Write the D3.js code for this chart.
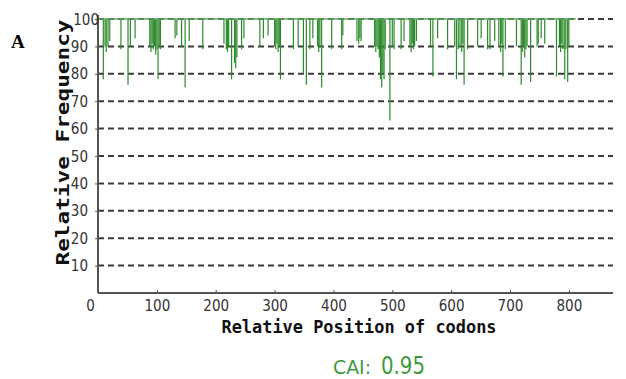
<!DOCTYPE html>
<html>
<head>
<meta charset="utf-8">
<script src="https://cdn.jsdelivr.net/npm/d3@7"></script>
<style>
  body { margin: 0; background: #fff; }
  svg { display: block; }
</style>
</head>
<body>
<svg id="chart" width="626" height="379"></svg>
<script>
// codon positions where relative frequency drops below 100
const dipCodons = [9, 12, 14, 17, 20, 39, 51, 55, 63,
  88, 90, 92, 94, 96, 98, 100, 102, 104, 106, 131,
  134, 142, 148, 155, 178, 214, 218, 220, 222, 227, 232, 234, 236, 244, 248,
  275, 281, 289, 300, 302, 304, 306, 308, 310, 332, 340, 349, 354, 360, 365, 373, 375, 377, 380, 397,
  414, 416, 440, 443, 445, 447, 470, 472, 474, 476, 478, 480, 482, 484, 486, 488, 496, 500, 503, 515, 520,
  530, 532, 534, 536, 538, 541, 565, 569, 577, 594, 606, 609, 612, 615, 618, 620, 622, 628, 645, 651,
  662, 666, 674, 681, 684, 686, 688, 692, 711, 719, 721, 723, 725, 727, 729, 735, 746, 748, 753, 759,
  779, 784, 786, 788, 790, 793, 795, 798, 800];
const dipValues = [78, 90, 88, 90, 92, 89, 76, 90, 93,
  90, 88, 91, 89, 90, 87, 89, 78, 90, 89, 93,
  94, 90, 75, 92, 89, 91, 89, 88, 90, 78, 84, 82, 86, 89, 93,
  90, 93, 94, 90, 89, 91, 88, 90, 78, 89, 90, 80, 76, 89, 93, 90, 88, 90, 75, 89,
  89, 94, 92, 91, 93, 92, 90, 88, 90, 89, 86, 78, 75, 80, 78, 89, 63, 90, 89, 89, 92,
  90, 88, 91, 89, 90, 92, 90, 79, 93, 89, 90, 78, 89, 90, 88, 91, 76, 89, 90, 93,
  89, 89, 92, 90, 88, 91, 79, 89, 90, 76, 88, 90, 86, 89, 90, 77, 90, 91, 93, 91,
  79, 90, 88, 91, 89, 78, 89, 77, 90];
const seqLength = 812;
const yTicks = [10, 20, 30, 40, 50, 60, 70, 80, 90, 100];
const xTicks = [0, 100, 200, 300, 400, 500, 600, 700, 800];
const caiValue = "0.95";

const svg = d3.select('#chart');
const plotLeft = 98, plotRight = 613, plotTop = 19, plotBottom = 293;

const x = d3.scaleLinear().domain([0, 875]).range([plotLeft, plotRight]);
const y = d3.scaleLinear().domain([0, 100]).range([plotBottom, plotTop]);

const labelFont = '"DejaVu Sans", sans-serif';

// dashed grid
svg.append('g').selectAll('line').data(yTicks).join('line')
  .attr('x1', plotLeft).attr('x2', plotRight)
  .attr('y1', d => y(d)).attr('y2', d => y(d))
  .attr('stroke', '#3a3a3a').attr('stroke-width', 2)
  .attr('stroke-dasharray', '6,4');

// spikes
const dips = dipCodons.map((c, i) => ({ c: c, v: dipValues[i] }));
svg.append('g').selectAll('line').data(dips).join('line')
  .attr('x1', d => x(d.c)).attr('x2', d => x(d.c))
  .attr('y1', y(100)).attr('y2', d => y(d.v))
  .attr('stroke', '#2b8a2b').attr('stroke-width', 1.2);

svg.append('line')
  .attr('x1', x(1)).attr('x2', x(seqLength))
  .attr('y1', y(100)).attr('y2', y(100))
  .attr('stroke', '#5fa85f').attr('stroke-width', 1.5);

// axes
const yAxis = d3.axisLeft(y).tickValues(yTicks).tickSize(3).tickPadding(7);
const gy = svg.append('g').attr('transform', 'translate(' + plotLeft + ',0)').call(yAxis);
const xAxis = d3.axisBottom(x).tickValues(xTicks).tickSize(-3).tickPadding(7);
const gx = svg.append('g').attr('transform', 'translate(0,' + plotBottom + ')').call(xAxis);

[gy, gx].forEach(g => {
  g.select('.domain').attr('stroke', '#555').attr('stroke-width', 2);
  g.selectAll('.tick line').attr('stroke', '#555');
  g.selectAll('.tick text')
    .attr('fill', '#333')
    .attr('textLength', d => String(d).length * 8.6)
    .attr('lengthAdjust', 'spacingAndGlyphs')
    .style('font-family', labelFont)
    .style('font-size', '16px');
});
gx.select('.domain').attr('d', 'M' + plotLeft + ',0H' + plotRight);
gy.select('.domain').attr('d', 'M0,' + plotBottom + 'V' + (plotTop - 4));
gx.selectAll('.tick text').attr('dy', '0.71em');
gx.selectAll('.tick').filter(d => d === 0).select('text').attr('x', -8);
gx.selectAll('.tick').filter(d => d === 0).select('line').remove();
gy.selectAll('.tick').filter(d => d === 100).select('text').attr('x', 1);

// titles
svg.append('text')
  .attr('transform', 'translate(69,' + ((plotTop + 262) / 2 + 2) + ') rotate(-90)')
  .attr('text-anchor', 'middle')
  .attr('textLength', 246).attr('lengthAdjust', 'spacingAndGlyphs')
  .style('font-family', '"DejaVu Sans Mono", monospace')
  .style('font-weight', 'bold').style('font-size', '17px')
  .attr('fill', '#111')
  .text('Relative Frequency');

svg.append('text')
  .attr('x', 359).attr('y', 333)
  .attr('text-anchor', 'middle')
  .attr('textLength', 275).attr('lengthAdjust', 'spacingAndGlyphs')
  .style('font-family', '"DejaVu Sans Mono", monospace')
  .style('font-weight', 'bold').style('font-size', '17px')
  .attr('fill', '#111')
  .text('Relative Position of codons');

svg.append('text')
  .attr('x', 11).attr('y', 48)
  .style('font-family', '"Liberation Serif", "Times New Roman", serif')
  .style('font-weight', 'bold').style('font-size', '19px')
  .attr('fill', '#000')
  .text('A');

const cai = svg.append('text')
  .attr('x', 333).attr('y', 374)
  .style('font-family', '"DejaVu Sans", sans-serif')
  .attr('fill', '#3d9a3d');
cai.append('tspan').attr('textLength', 38).attr('lengthAdjust', 'spacingAndGlyphs')
  .style('font-size', '19px').text('CAI:');
cai.append('tspan').attr('dx', 10).attr('textLength', 44).attr('lengthAdjust', 'spacingAndGlyphs')
  .style('font-size', '24px').text(caiValue);
</script>
</body>
</html>
